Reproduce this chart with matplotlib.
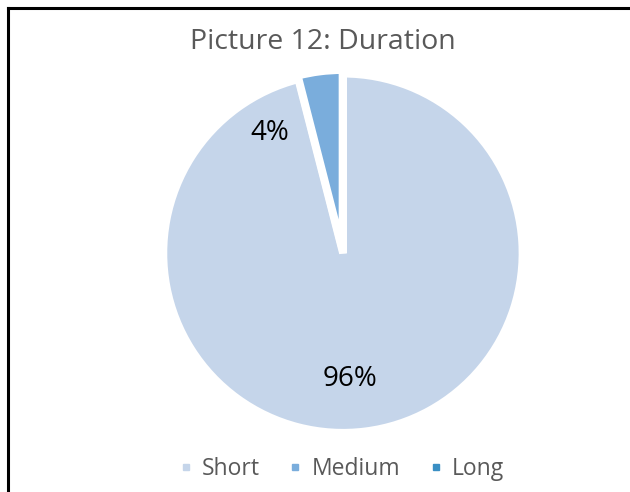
import matplotlib.pyplot as plt
from matplotlib.lines import Line2D

plt.rcParams['font.family'] = ['Open Sans', 'DejaVu Sans']

# data
categories = ["Short", "Medium", "Long"]
shares = [96, 4, 0.0001]
pct_labels = ["96%", "4%", ""]
colors = ["#c5d5ea", "#7aaddc", "#3a8fc4"]

fig = plt.figure(figsize=(6.3, 4.92), dpi=100)
ax = fig.add_axes([0.2594, 0.1205, 0.5699, 0.7297])

wedges, _ = ax.pie(shares, colors=colors, startangle=90, counterclock=False,
                   explode=[0, 0.02, 0],
                   wedgeprops=dict(edgecolor="white", linewidth=5.5))
ax.set_xlim(-1, 1)
ax.set_ylim(-1, 1)
ax.set_aspect("equal")
ax.axis("off")

# percent labels (placed like Excel does)
ax.text(0.04, -0.70, pct_labels[0], ha="center", va="center", fontsize=20, color="black")
ax.text(-0.41, 0.67, pct_labels[1], ha="center", va="center", fontsize=20, color="black")

fig.text(0.513, 0.915, "Picture 12: Duration", ha="center", va="center",
         fontsize=20.5, color="#595959")

handles = [Line2D([], [], marker="s", linestyle="none", markersize=5,
                  markerfacecolor=c, markeredgecolor=c) for c in colors]
fig.legend(handles, categories, loc="center", bbox_to_anchor=(0.543, 0.047),
           ncol=3, frameon=False, fontsize=16.5, labelcolor="#595959",
           handlelength=0.5, handletextpad=0.45, columnspacing=1.3)

# border (top and left visible)
fig.add_artist(Line2D([0.0127, 1.0], [0.984, 0.984], color="black", lw=2.2))
fig.add_artist(Line2D([0.0127, 0.0127], [0.0, 0.984], color="black", lw=2.2))

fig.savefig("out.png", dpi=100)
